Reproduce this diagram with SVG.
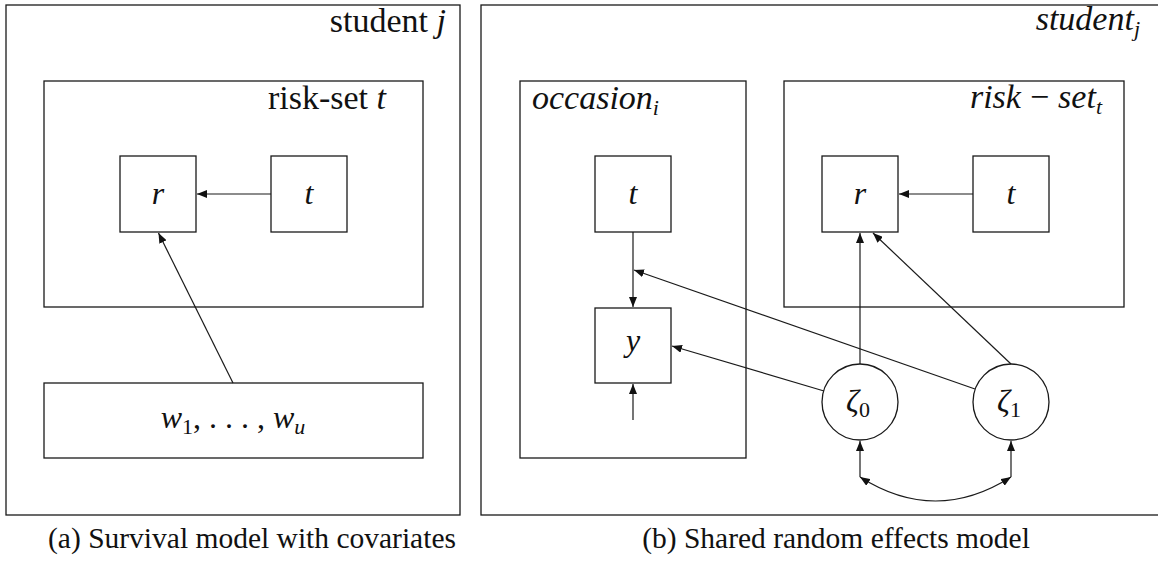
<svg xmlns="http://www.w3.org/2000/svg" width="1158" height="561" viewBox="0 0 1158 561">
  <style>
    .box { fill: none; stroke: #1a1a1a; stroke-width: 1.3; }
    .edge { fill: none; stroke: #1a1a1a; stroke-width: 1.2; }
    .lbl { font-family: "Liberation Serif", "Times New Roman", serif; fill: #111; }
    .it { font-style: italic; }
    .cap { font-size: 29.5px; }
    .plate { font-size: 34px; }
    .var { font-size: 32px; }
    .sub { font-size: 22px; }
  </style>
  <defs>
    <marker id="tip" viewBox="0 0 10 8" refX="10" refY="4" markerWidth="10" markerHeight="8" markerUnits="userSpaceOnUse" orient="auto-start-reverse">
      <path d="M0,0 L10,4 L0,8 Z" fill="#111"/>
    </marker>
  </defs>

  <!-- (a) survival model with covariates -->
  <g id="a-student">
    <rect class="box" x="6" y="5" width="454" height="510"/>
    <text class="lbl plate" x="446" y="32" text-anchor="end">student <tspan class="it">j</tspan></text>
  </g>
  <g id="a-riskset">
    <rect class="box" x="44" y="81" width="379" height="226"/>
    <text class="lbl plate" x="386" y="109" text-anchor="end">risk-set <tspan class="it">t</tspan></text>
  </g>
  <g id="a-r">
    <rect class="box" x="120" y="156" width="76" height="76"/>
    <text class="lbl var it" x="158" y="204" text-anchor="middle">r</text>
  </g>
  <g id="a-t">
    <rect class="box" x="271" y="156" width="76" height="76"/>
    <text class="lbl var it" x="309" y="204" text-anchor="middle">t</text>
  </g>
  <g id="a-w">
    <rect class="box" x="44" y="383" width="379" height="75"/>
    <text class="lbl var" x="233" y="428" text-anchor="middle"><tspan class="it">w</tspan><tspan class="sub" dy="6">1</tspan><tspan dy="-6">, . . . , </tspan><tspan class="it">w</tspan><tspan class="sub it" dy="6">u</tspan></text>
  </g>
  <g id="a-connectors">
    <line class="edge" x1="271" y1="194" x2="197" y2="194" marker-end="url(#tip)"/>
    <line class="edge" x1="233" y1="383" x2="158.5" y2="233" marker-end="url(#tip)"/>
  </g>
  <text class="lbl cap" x="252" y="548" text-anchor="middle">(a) Survival model with covariates</text>

  <!-- (b) shared random effects model -->
  <g id="b-student">
    <rect class="box" x="481" y="5" width="690" height="510"/>
    <text class="lbl plate it" x="1140" y="30" text-anchor="end">student<tspan class="sub" dy="6">j</tspan></text>
  </g>
  <g id="b-occasion">
    <rect class="box" x="520" y="81" width="226" height="377"/>
    <text class="lbl plate it" x="532" y="109">occasion<tspan class="sub" dy="6">i</tspan></text>
  </g>
  <g id="b-riskset">
    <rect class="box" x="784" y="81" width="340" height="226"/>
    <text class="lbl plate" x="1102" y="108" text-anchor="end"><tspan class="it">risk</tspan><tspan dx="9">−</tspan><tspan class="it" dx="9">set</tspan><tspan class="sub it" dy="6">t</tspan></text>
  </g>
  <g id="b-t-occ">
    <rect class="box" x="595" y="156" width="76" height="76"/>
    <text class="lbl var it" x="633" y="204" text-anchor="middle">t</text>
  </g>
  <g id="b-y">
    <rect class="box" x="595" y="308" width="76" height="75"/>
    <text class="lbl var it" x="633" y="351" text-anchor="middle">y</text>
  </g>
  <g id="b-r">
    <rect class="box" x="822" y="156" width="76" height="76"/>
    <text class="lbl var it" x="860" y="204" text-anchor="middle">r</text>
  </g>
  <g id="b-t-risk">
    <rect class="box" x="973" y="156" width="76" height="76"/>
    <text class="lbl var it" x="1011" y="204" text-anchor="middle">t</text>
  </g>
  <g id="b-zeta0">
    <circle class="box" cx="860" cy="402" r="38"/>
    <text class="lbl var" x="858" y="412" text-anchor="middle"><tspan class="it">ζ</tspan><tspan class="sub" dy="5">0</tspan></text>
  </g>
  <g id="b-zeta1">
    <circle class="box" cx="1011" cy="402" r="38"/>
    <text class="lbl var" x="1009" y="412" text-anchor="middle"><tspan class="it">ζ</tspan><tspan class="sub" dy="5">1</tspan></text>
  </g>
  <g id="b-connectors">
    <line class="edge" x1="973" y1="194" x2="899" y2="194" marker-end="url(#tip)"/>
    <line class="edge" x1="633" y1="232" x2="633" y2="307" marker-end="url(#tip)"/>
    <line class="edge" x1="633" y1="420" x2="633" y2="384" marker-end="url(#tip)"/>
    <line class="edge" x1="860" y1="364" x2="860" y2="233" marker-end="url(#tip)"/>
    <line class="edge" x1="1011" y1="364" x2="873" y2="233" marker-end="url(#tip)"/>
    <line class="edge" x1="975" y1="389" x2="634" y2="270" marker-end="url(#tip)"/>
    <line class="edge" x1="824" y1="391" x2="672" y2="346" marker-end="url(#tip)"/>
    <line class="edge" x1="860" y1="477" x2="860" y2="441" marker-end="url(#tip)"/>
    <line class="edge" x1="1011" y1="477" x2="1011" y2="441" marker-end="url(#tip)"/>
    <path class="edge" d="M860,477 Q935.5,525 1011,477" marker-start="url(#tip)" marker-end="url(#tip)"/>
  </g>
  <text class="lbl cap" x="836" y="548" text-anchor="middle">(b) Shared random effects model</text>
</svg>
